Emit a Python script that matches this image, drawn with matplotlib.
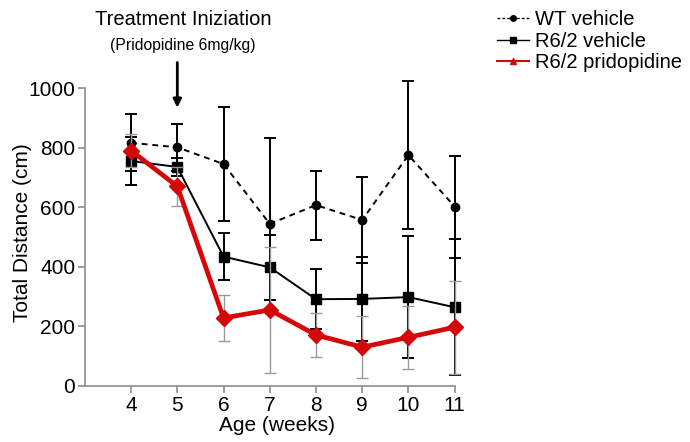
import numpy as np
import matplotlib.pyplot as plt
from matplotlib.lines import Line2D

plt.rcParams['font.family'] = ['Liberation Sans', 'DejaVu Sans']

weeks = [4, 5, 6, 7, 8, 9, 10, 11]

wt_vehicle = [816, 801, 745, 544, 607, 557, 775, 602]
wt_err = [96, 78, 190, 287, 116, 143, 249, 171]

r62_vehicle = [755, 735, 434, 398, 291, 292, 298, 264]
r62_err = [80, 30, 78, 109, 100, 142, 206, 229]

r62_prido = [790, 670, 228, 255, 171, 130, 163, 197]
prido_err = [55, 65, 77, 212, 75, 105, 105, 156]

axcol = '#8c8c8c'
red = '#d40808'

fig = plt.figure(figsize=(6.9, 4.42), dpi=100)
ax = fig.add_axes([0.123, 0.127, 0.556, 0.694])

ax.errorbar(weeks, wt_vehicle, yerr=wt_err, color='black', ls=(0, (3, 2.5)),
            lw=1.4, marker='o', ms=6, capsize=4, elinewidth=1.4, capthick=1.4,
            clip_on=False, zorder=3)
ax.errorbar(weeks, r62_vehicle, yerr=r62_err, color='black', ls='-',
            lw=1.4, marker='s', ms=7, capsize=4, elinewidth=1.4, capthick=1.4,
            clip_on=False, zorder=4)
ax.errorbar(weeks, r62_prido, yerr=prido_err, color=red, ecolor='#9a9a9a',
            ls='-', lw=3.4, marker='D', ms=8.5, capsize=4, elinewidth=1.0, capthick=1.0,
            clip_on=False, zorder=5)

ax.set_xlim(3, 11.3)
ax.set_ylim(0, 1030)
ax.spines['left'].set_bounds(0, 1000)
ax.spines['bottom'].set_bounds(3, 11)
for s in ['top', 'right']:
    ax.spines[s].set_visible(False)
for s in ['left', 'bottom']:
    ax.spines[s].set_color(axcol)
    ax.spines[s].set_linewidth(1.2)

ax.set_xticks(weeks)
ax.set_yticks([0, 200, 400, 600, 800, 1000])
ax.tick_params(axis='both', colors=axcol, labelcolor='black', labelsize=15,
               length=5, width=1.2, pad=2)
ax.set_xlabel('Age (weeks)', fontsize=15, labelpad=1)
ax.set_ylabel('Total Distance (cm)', fontsize=15, labelpad=-3)

# treatment annotation
fig.text(0.266, 0.955, 'Treatment Iniziation', fontsize=14.5, ha='center', va='center')
fig.text(0.265, 0.897, '(Pridopidine 6mg/kg)', fontsize=11.3, ha='center', va='center')
ax.annotate('', xy=(5, 925), xytext=(5, 1095), xycoords='data',
            arrowprops=dict(arrowstyle='-|>', color='black', lw=2,
                            mutation_scale=12), annotation_clip=False)

handles = [
    Line2D([], [], color='black', ls=(0, (2, 1.5)), lw=1, marker='o', ms=4),
    Line2D([], [], color='black', ls='-', lw=1, marker='s', ms=4),
    Line2D([], [], color=red, ls='-', lw=1.5, marker='^', ms=4),
]
labels = ['WT vehicle', 'R6/2 vehicle', 'R6/2 pridopidine']
fig.legend(handles, labels, loc='upper left', bbox_to_anchor=(0.694, 1.018),
           frameon=False, fontsize=14.5, handlelength=1.6, handletextpad=0.3,
           labelspacing=0.12)

fig.savefig('out.png', dpi=100)
